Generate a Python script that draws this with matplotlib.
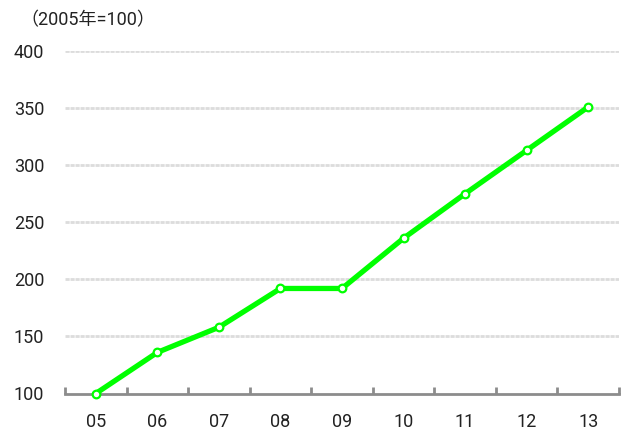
import numpy as np
import matplotlib.pyplot as plt

plt.rcParams['font.family'] = ['Roboto', 'Noto Sans CJK JP', 'DejaVu Sans']

years = ['05', '06', '07', '08', '09', '10', '11', '12', '13']
index_vals = [100, 136, 158, 192, 192, 236, 275, 313, 351]
yticks = [100, 150, 200, 250, 300, 350, 400]

fig = plt.figure(figsize=(6.21, 4.32), dpi=100)
ax = fig.add_axes([65 / 621, 38.5 / 432, 554 / 621, 342.5 / 432])

x = np.arange(len(years))
ax.plot(x, index_vals, color='#00ff00', lw=3.8, zorder=3, clip_on=False,
        marker='o', ms=5.5, mfc='white', mec='#00ff00', mew=1.6)

ax.set_xlim(-0.5, len(years) - 0.5)
ax.set_ylim(100, 400)

# gridlines for the y levels above the baseline
for v in yticks[1:]:
    ax.axhline(v, color='#dcdcdc', lw=2, ls=(0, (1.5, 0.3)), zorder=1)

ax.set_yticks(yticks)
ax.set_yticklabels([str(v) for v in yticks])
ax.tick_params(axis='y', length=0, pad=15, labelsize=13, labelcolor='#222222')

# boundary ticks on the axis, labels at the category centres
ax.set_xticks(np.arange(-0.5, len(years), 1.0))
ax.set_xticklabels([])
ax.set_xticks(x, minor=True)
ax.set_xticklabels(years, minor=True)
ax.tick_params(axis='x', which='major', direction='in', length=5, width=2, color='#8c8c8c')
ax.tick_params(axis='x', which='minor', length=0, pad=14, labelsize=13, labelcolor='#222222')

for side in ['top', 'right', 'left']:
    ax.spines[side].set_visible(False)
ax.spines['bottom'].set_color('#8c8c8c')
ax.spines['bottom'].set_linewidth(2)

fig.text(20 / 621, 1 - 20 / 432, '（2005年=100）', fontsize=13, color='#222222',
         ha='left', va='center')

fig.savefig('out.png', dpi=100)
